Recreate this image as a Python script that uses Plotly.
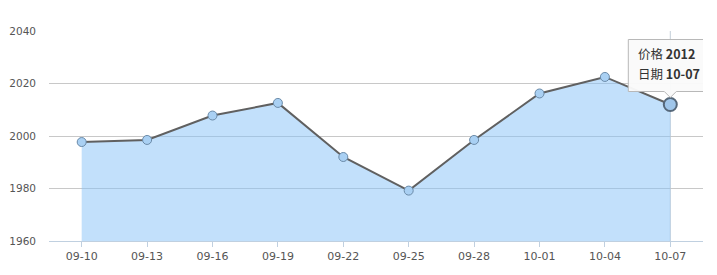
import plotly.graph_objects as go

dates = ["09-10", "09-13", "09-16", "09-19", "09-22", "09-25", "09-28", "10-01", "10-04", "10-07"]
prices = [1997.7, 1998.5, 2007.8, 2012.6, 1992, 1979.2, 1998.5, 2016.2, 2022.5, 2012]
y_ticks = [1960, 1980, 2000, 2020, 2040]
hl_index = 9

hx, hy = dates[hl_index], prices[hl_index]

fig = go.Figure()
fig.add_trace(go.Scatter(
    x=dates, y=prices, mode="lines+markers",
    fill="tozeroy", fillcolor="rgba(133,193,247,0.5)",
    line=dict(color="#606060", width=2),
    marker=dict(size=9, color="#a9d0f3", line=dict(color="#6a8aa8", width=1)),
    hoverinfo="skip", showlegend=False,
))
fig.add_trace(go.Scatter(
    x=[hx], y=[hy], mode="markers",
    marker=dict(size=13, color="#a0c6ea", line=dict(color="#56687a", width=2)),
    hoverinfo="skip", showlegend=False,
))

# crosshair
fig.add_shape(type="line", xref="x", yref="paper",
              x0=hx, x1=hx, y0=0, y1=1,
              line=dict(color="rgba(170,185,200,0.7)", width=1), layer="below")

# tooltip box (pixel offsets relative to highlighted point)
fig.add_shape(type="path", xref="x", yref="y", xsizemode="pixel", ysizemode="pixel",
              xanchor=hx, yanchor=hy,
              path="M -42 13 L -6 13 L 0 7 L 6 13 L 43 13 L 43 65 L -42 65 Z",
              fillcolor="rgba(250,250,250,0.96)", line=dict(color="#b8b8b8", width=1),
              layer="above")

fig.add_annotation(x=hx, y=hy, xanchor="left", yanchor="middle",
                   xshift=-34, yshift=51, showarrow=False,
                   text=f"价格 <b>{hy:.0f}</b>",
                   font=dict(family="Noto Sans CJK SC", size=12.5, color="#333333"))
fig.add_annotation(x=hx, y=hy, xanchor="left", yanchor="middle",
                   xshift=-34, yshift=31, showarrow=False,
                   text=f"日期 <b>{hx}</b>",
                   font=dict(family="Noto Sans CJK SC", size=12.5, color="#333333"))

fig.update_layout(
    width=717, height=275,
    margin=dict(l=49, r=14, t=31, b=34, autoexpand=False),
    paper_bgcolor="white", plot_bgcolor="white",
    font=dict(family="DejaVu Sans", color="#555555"),
    xaxis=dict(
        type="category", range=[-0.5, 9.5], automargin=False,
        showgrid=False, showline=True, linecolor="#c0d0e0", linewidth=1,
        ticks="outside", ticklen=5, tickcolor="#c0d0e0",
        tickfont=dict(size=11, color="#555555"), zeroline=False,
    ),
    yaxis=dict(
        range=[1960, 2040], tickvals=y_ticks, automargin=False,
        showgrid=True, gridcolor="#c8c8c8", gridwidth=1,
        showline=False, zeroline=False,
        ticks="", ticklabelstandoff=12,
        tickfont=dict(size=10.5, color="#555555"),
    ),
)

fig.write_html("out.html")
